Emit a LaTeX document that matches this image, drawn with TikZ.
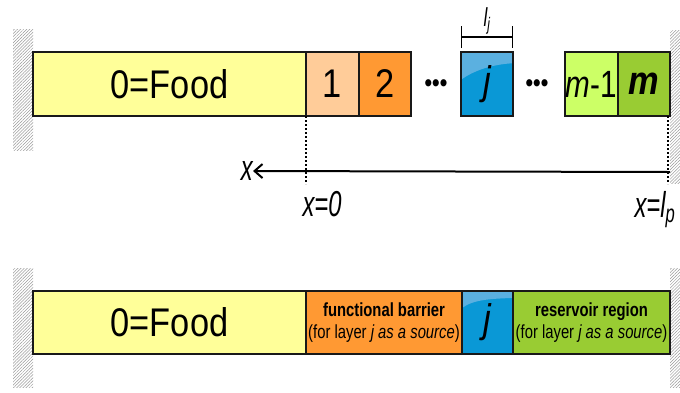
\documentclass[tikz,border=0pt]{standalone}
\usepackage{fontspec}
\setmainfont{Liberation Sans}[FakeStretch=0.86]
\newfontfamily\labelfont{Liberation Sans}[FakeStretch=0.66]
\newfontfamily\boxfont{Liberation Sans}[FakeStretch=0.78]
\usepackage{tikz}
\usetikzlibrary{positioning}
\usetikzlibrary{calc}
\usetikzlibrary{patterns.meta}
\usetikzlibrary{arrows.meta}
\definecolor{foodyellow}{HTML}{FFFF99}
\definecolor{peach}{HTML}{FFCC99}
\definecolor{barrierorange}{HTML}{FF9933}
\definecolor{jblue}{HTML}{0A98D6}
\definecolor{jgloss}{HTML}{5BB0E0}
\definecolor{lightgreen}{HTML}{CCFF66}
\definecolor{reservoirgreen}{HTML}{99CC33}
\tikzset{
  cell/.style={draw=black!90, line width=2pt, inner sep=0pt, outer sep=0pt,
    minimum height=64pt, font=\fontsize{40}{40}\selectfont},
  smallcell/.style={cell, minimum width=52.5pt},
  jcell/.style={fill=jblue, path picture={
      \fill[jgloss] (path picture bounding box.north west) -- ++(0,#1)
        .. controls +(12,-9) and +(-22,1) .. ++(53,-0.6*#1)
        -- (path picture bounding box.north east) -- cycle;}},
  jcell/.default=28,
  wall/.style={pattern={Lines[angle=45,distance=2.2pt,line width=0.5pt]},
    pattern color=black!40},
  dots/.style={font=\fontsize{25}{25}\selectfont\bfseries},
  xlabel/.style={font=\labelfont\itshape\fontsize{36}{36}\selectfont, inner sep=0pt},
  smalltext/.style={font=\boxfont\fontsize{19}{22}\selectfont, align=center},
  markline/.style={line width=2pt, dash pattern=on 2pt off 2pt}
}
\begin{document}
\begin{tikzpicture}[x=1pt,y=-1pt]
  \useasboundingbox (0,0) rectangle (680,392);
  \path[wall] (13,29) rectangle (33,150);
  \path[wall] (670,30) rectangle (680,183);
  \path[wall] (13,268) rectangle (33,387);
  \path[wall] (670,268) rectangle (680,387);

  \node[cell, fill=foodyellow, minimum width=273pt] (food) at (169.5,84) {0=Food};
  \node[smallcell, fill=peach, right=0pt of food] (c1) {1};
  \node[smallcell, fill=barrierorange, right=0pt of c1] (c2) {2};
  \node[dots] (d1) at (436,86) {•••};
  \node[smallcell, jcell] (cj) at (487,84) {\itshape j};
  \node[dots] (d2) at (537,86) {•••};
  \node[smallcell, fill=lightgreen, font=\boxfont\fontsize{38}{38}\selectfont] (cm1) at (591.25,84) {\itshape m\upshape -1};
  \node[smallcell, fill=reservoirgreen, right=0pt of cm1] (cm) {\bfseries\itshape m};

  \draw[line width=1.2pt, {Bar[width=22pt]}-{Bar[width=22pt]}] ($(cj.north west)+(0,-15)$) -- ($(cj.north east)+(0,-15)$)
    node[midway, anchor=south, inner sep=2pt, font=\labelfont\itshape\fontsize{26}{26}\selectfont] (lj) {l\textsubscript{j}};

  \coordinate (xstart) at (670,172);
  \node[xlabel, anchor=east] (xaxis) at (253,171) {x};
  \draw[line width=2pt, -{Straight Barb[length=8pt,width=14pt,line width=2pt]}] (xstart) -- (xaxis);
  \coordinate (zero) at (306,184);
  \coordinate (lp) at (668,184);
  \draw[markline] (c1.south west) -- (zero);
  \draw[markline] ($(cm.south east)+(-2,0)$) -- (lp);
  \node[xlabel, anchor=north] (xzero) at (322,191) {x=0};
  \node[xlabel, anchor=north] (xlp) at (655,191) {x=l\textsubscript{p}};

  \node[cell, fill=foodyellow, minimum width=273pt, minimum height=63pt] (bfood) at (169.5,322.5) {0=Food};
  \node[cell, smalltext, fill=barrierorange, minimum width=156pt, minimum height=63pt, right=0pt of bfood] (barrier)
    {{\bfseries functional barrier}\\(for layer {\itshape j as a source})};
  \node[cell, jcell=17, minimum width=51pt, minimum height=63pt, right=0pt of barrier] (bj) {\itshape j};
  \node[cell, smalltext, fill=reservoirgreen, minimum width=157pt, minimum height=63pt, right=0pt of bj] (reservoir)
    {{\bfseries reservoir region}\\(for layer {\itshape j as a source})};
\end{tikzpicture}
\end{document}
